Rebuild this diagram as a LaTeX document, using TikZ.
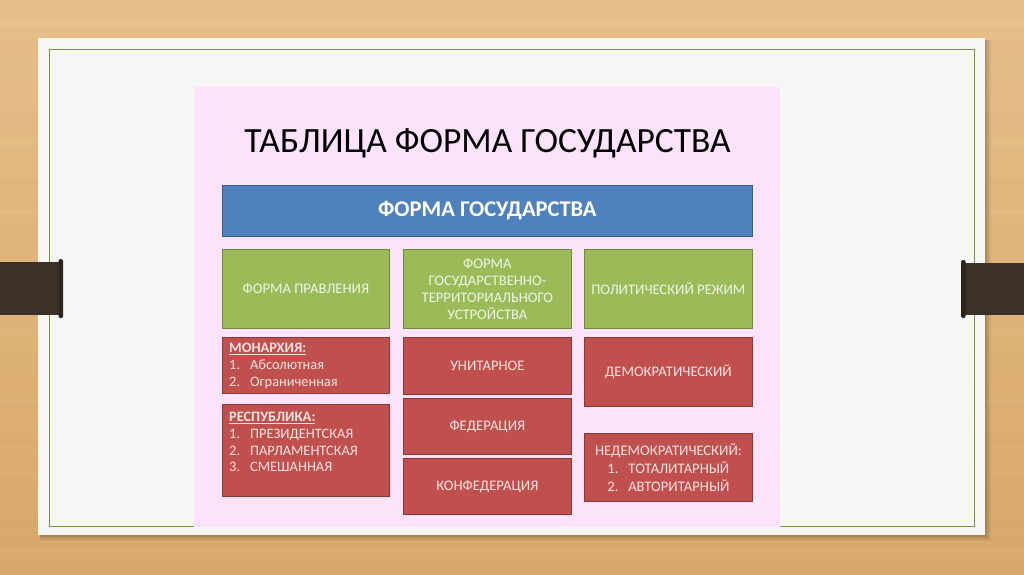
\documentclass[tikz,border=0pt]{standalone}
\usepackage{fontspec}
\setmainfont{Carlito}
\definecolor{woodA}{RGB}{230,190,138}
\definecolor{woodB}{RGB}{216,168,106}
\definecolor{paper}{RGB}{246,246,244}
\definecolor{frameG}{RGB}{122,150,58}
\definecolor{pinkF}{RGB}{251,227,251}
\definecolor{blueF}{RGB}{79,129,189}
\definecolor{blueD}{RGB}{56,93,138}
\definecolor{greenF}{RGB}{155,187,89}
\definecolor{greenD}{RGB}{113,137,63}
\definecolor{greenT}{RGB}{240,244,228}
\definecolor{redF}{RGB}{192,80,77}
\definecolor{redD}{RGB}{140,56,54}
\definecolor{redT}{RGB}{247,226,226}
\definecolor{strapC}{RGB}{60,49,40}
\definecolor{strapD}{RGB}{45,37,30}
\begin{document}
\begin{tikzpicture}[x=1pt,y=-1pt,
  box/.style={draw, line width=0.8pt, inner sep=0pt, anchor=north west, align=center,
    font=\fontsize{14.6}{17}\selectfont},
  bluebox/.style={box, fill=blueF, draw=blueD, text=white,
    font=\fontsize{22.5}{26}\selectfont\bfseries},
  greenbox/.style={box, fill=greenF, draw=greenD, text=greenT},
  redbox/.style={box, fill=redF, draw=redD, text=redT},
  listtext/.style={anchor=north west, inner sep=0pt, align=left, text=redT,
    font=\fontsize{14.4}{16.7}\selectfont},
]
\useasboundingbox (0,0) rectangle (1024,574);
% wood background
\shade[top color=woodA, bottom color=woodB] (0,0) rectangle (1024,574);
\foreach \yy/\hh/\oo in {20/6/0.05, 70/4/0.04, 140/8/0.03, 210/5/0.04, 330/7/0.035, 400/4/0.045, 470/6/0.03, 548/5/0.04}
  \fill[white, opacity=\oo] (0,\yy) rectangle (1024,\yy+\hh);
\foreach \yy/\hh in {50/3, 180/4, 300/3, 440/4, 520/3}
  \fill[brown, opacity=0.03] (0,\yy) rectangle (1024,\yy+\hh);
% paper with shadow
\fill[black, opacity=0.06] (40,40) rectangle (991,541);
\fill[black, opacity=0.08] (40,40) rectangle (989,539);
\fill[black, opacity=0.10] (40,40) rectangle (987,537);
\fill[paper] (38,38) rectangle (985,535);
\draw[frameG, line width=1pt] (49,49) rectangle (974,526);
% straps
\fill[strapC] (0,262) rectangle (61,315);
\fill[strapD, rounded corners=1.5pt] (58.5,259) rectangle (63,318);
\fill[strapC] (963,263) rectangle (1024,315);
\fill[strapD, rounded corners=1.5pt] (961,260) rectangle (965.5,318);
% pink panel
\fill[pinkF] (194,87) rectangle (780,527);
% title
\node[inner sep=0pt, font=\fontsize{35.5}{40}\selectfont, text=black] (title) at (487.5,143) {ТАБЛИЦА ФОРМА ГОСУДАРСТВА};
% blue bar
\node[bluebox, minimum width=530pt, minimum height=51pt] (blue) at (222,185) {ФОРМА ГОСУДАРСТВА};
% green row
\node[greenbox, minimum width=167pt, minimum height=79pt] (g1) at (222,249) {ФОРМА ПРАВЛЕНИЯ};
\node[greenbox, minimum width=168pt, minimum height=79pt] (g2) at (403,249) {ФОРМА\\ГОСУДАРСТВЕННО-\\ТЕРРИТОРИАЛЬНОГО\\УСТРОЙСТВА};
\node[greenbox, minimum width=168pt, minimum height=79pt] (g3) at (584,249) {ПОЛИТИЧЕСКИЙ РЕЖИМ};
% column 1
\node[redbox, minimum width=167pt, minimum height=56pt] (mon) at (222,337) {};
\node[listtext] (montext) at (229,343) {\textbf{\underline{МОНАРХИЯ:}}\\
  \makebox[21pt][l]{1.}Абсолютная\\
  \makebox[21pt][l]{2.}Ограниченная};
\node[redbox, minimum width=167pt, minimum height=92pt] (rep) at (222,404) {};
\node[listtext] (reptext) at (229,412) {\textbf{\underline{РЕСПУБЛИКА:}}\\
  \makebox[21pt][l]{1.}ПРЕЗИДЕНТСКАЯ\\
  \makebox[21pt][l]{2.}ПАРЛАМЕНТСКАЯ\\
  \makebox[21pt][l]{3.}СМЕШАННАЯ};
% column 2
\node[redbox, minimum width=168pt, minimum height=57pt] (uni) at (403,337) {УНИТАРНОЕ};
\node[redbox, minimum width=168pt, minimum height=56pt] (fed) at (403,398) {ФЕДЕРАЦИЯ};
\node[redbox, minimum width=168pt, minimum height=56pt] (conf) at (403,458) {КОНФЕДЕРАЦИЯ};
% column 3
\node[redbox, minimum width=168pt, minimum height=69pt] (dem) at (584,337) {ДЕМОКРАТИЧЕСКИЙ};
\node[redbox, minimum width=168pt, minimum height=68pt, font=\fontsize{14.6}{18}\selectfont] (nondem) at (584,433)
  {\rule{0pt}{3pt}НЕДЕМОКРАТИЧЕСКИЙ:\\\makebox[21pt][l]{1.}ТОТАЛИТАРНЫЙ\\\makebox[21pt][l]{2.}АВТОРИТАРНЫЙ};
\end{tikzpicture}
\end{document}
